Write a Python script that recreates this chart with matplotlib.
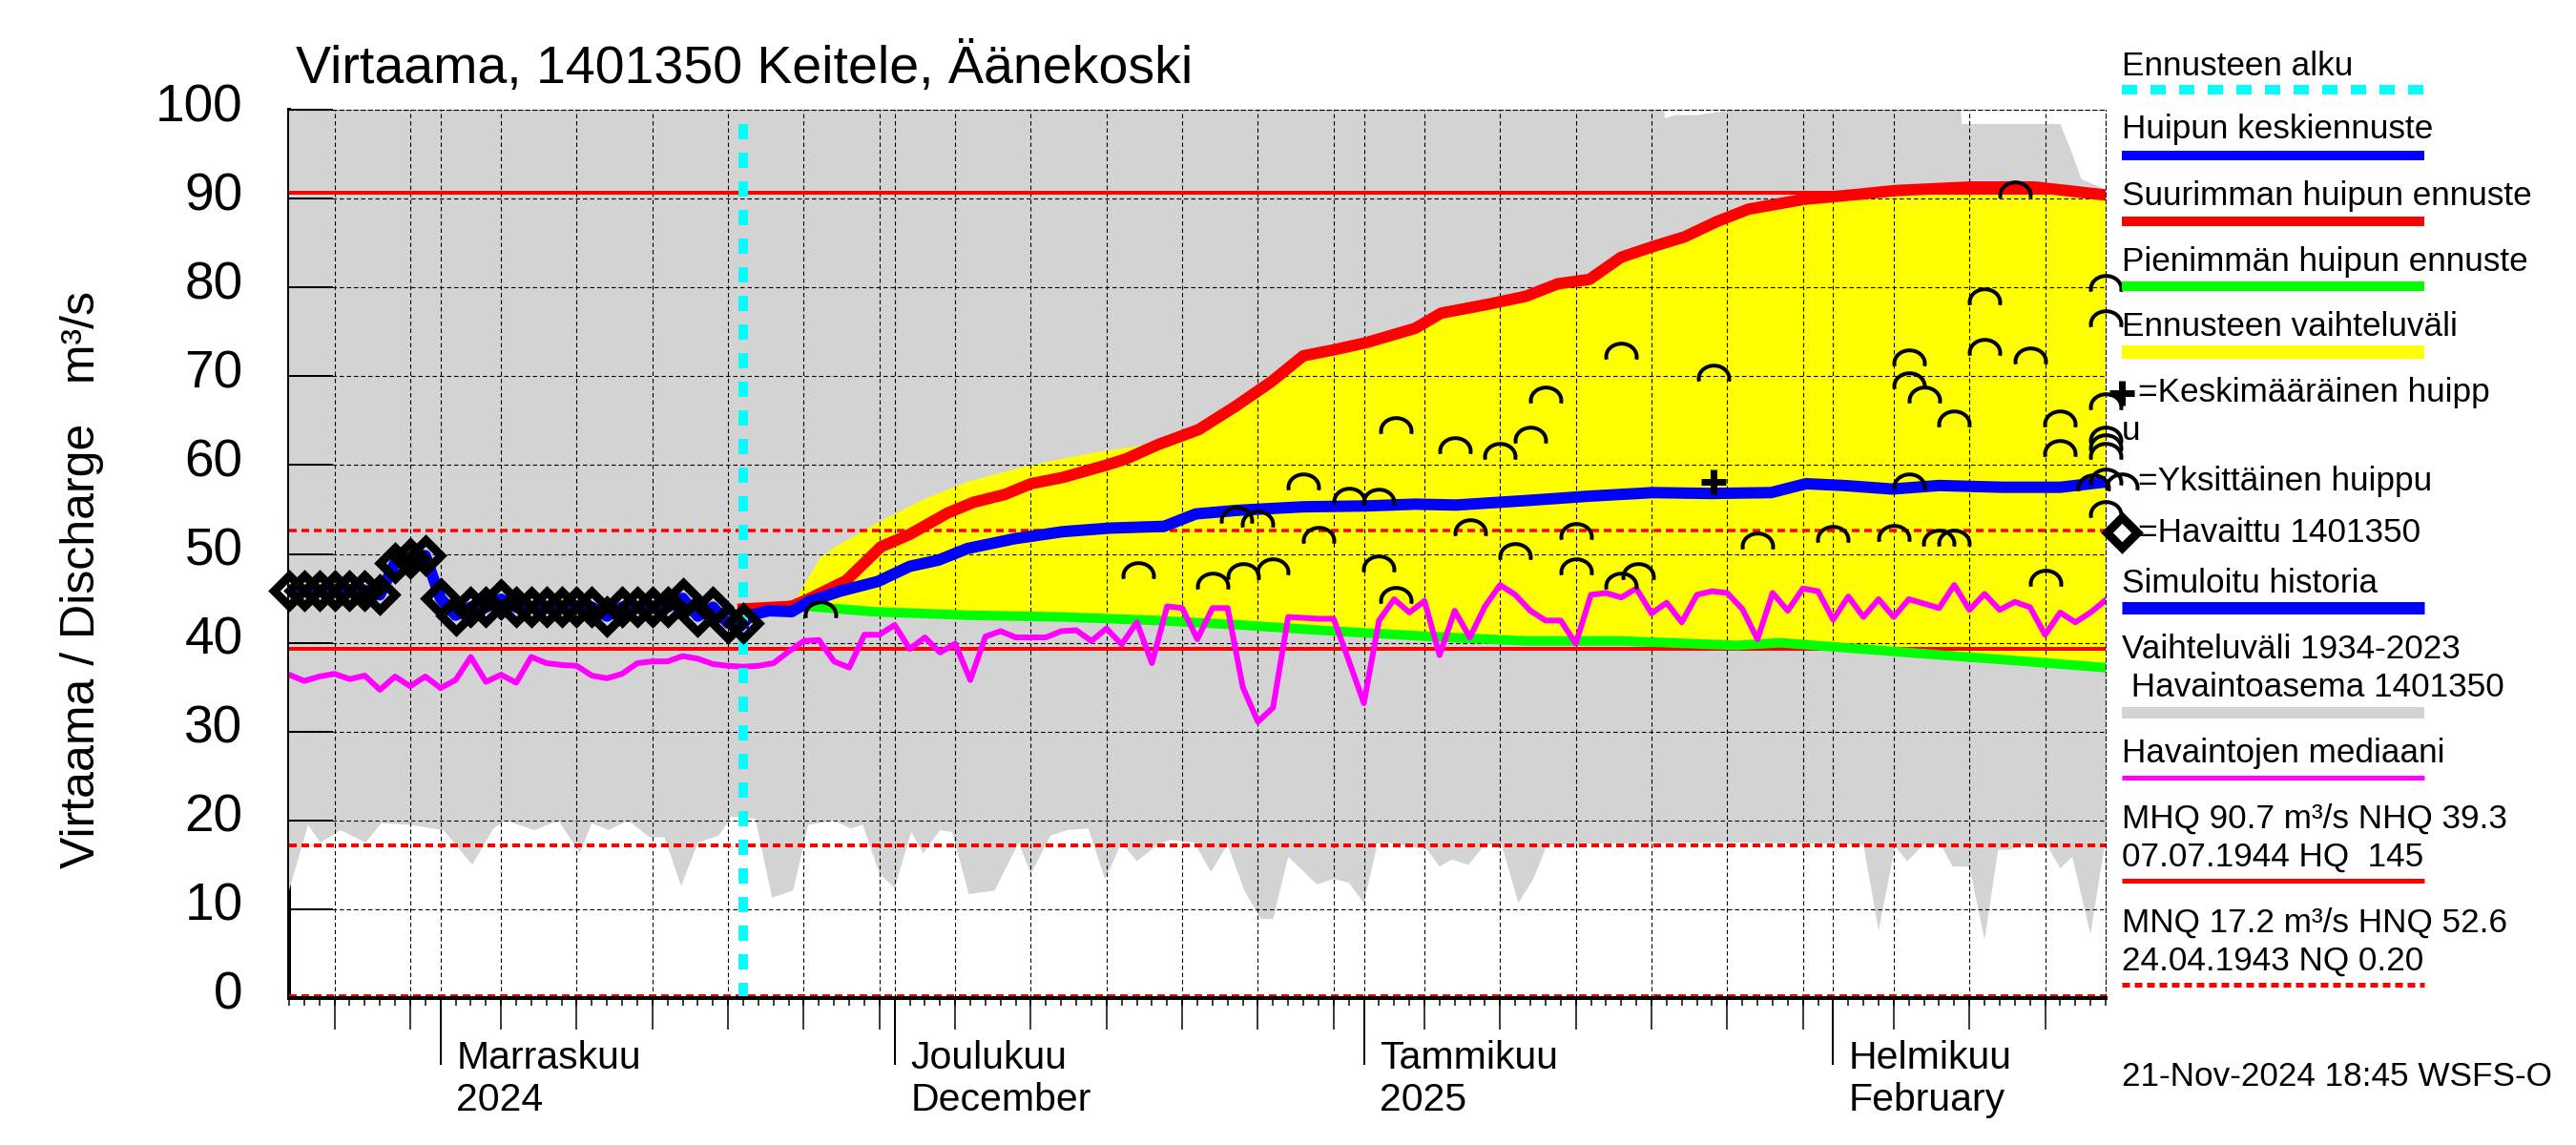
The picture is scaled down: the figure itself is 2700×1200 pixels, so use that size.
import datetime as dt
import numpy as np
import matplotlib
matplotlib.use("Agg")
import matplotlib.pyplot as plt
import matplotlib.dates as mdates
from matplotlib.path import Path
from matplotlib.lines import Line2D
from matplotlib.patches import Rectangle
from matplotlib.transforms import ScaledTranslation

plt.rcParams['font.family'] = ['Liberation Sans', 'DejaVu Sans']
plt.rcParams['lines.scale_dashes'] = False

W, H = 2700, 1200
PT = 72 / 100  # points per pixel (dpi 100)

# x values are days counted from 22.10.2024
START = dt.datetime(2024, 10, 22)
NDAYS = 120
FORECAST_DAY = 30

# havaittu (observed)
obs_day = list(range(31))
obs_val = [45.9, 45.9, 45.9, 45.9, 45.9, 45.9, 45.4, 49.0, 49.5, 49.8,
           45.0, 43.1, 44.0, 44.0, 44.9, 44.0, 44.0, 44.0, 44.0, 44.0,
           44.0, 43.0, 44.0, 44.0, 44.0, 44.0, 45.0, 43.0, 44.0, 42.2, 42.2]

# huipun keskiennuste (mean forecast)
mean_day = [30, 30.5, 31.7, 33.2, 34.3, 36.4, 38.9, 41, 42.9, 44.8, 47.9, 51.1,
            54.2, 57.8, 59.9, 62.6, 67, 71.2, 74.4, 77.1, 81.7, 85.9, 90.1,
            93.9, 97.9, 100.2, 102.7, 105.9, 109, 113.2, 117, 120]
mean_val = [42.2, 43.1, 43.6, 43.5, 44.6, 45.8, 46.9, 48.6, 49.3, 50.6, 51.7, 52.5,
            52.9, 53.1, 54.5, 54.9, 55.3, 55.4, 55.6, 55.5, 56.0, 56.5, 56.9,
            56.8, 56.9, 57.9, 57.7, 57.3, 57.7, 57.5, 57.5, 58.1]

# suurimman huipun ennuste (max forecast)
max_day = [30, 33.2, 34.3, 36.8, 39.1, 41, 43.5, 45.2, 47.3, 49, 51.1, 54, 55.3,
           57.4, 60.1, 62.6, 64.9, 67, 69.1, 71.2, 74.4, 76.1, 79.2, 81.7, 83.8,
           85.9, 88, 90.1, 92.2, 94.3, 96.4, 100, 103.8, 106.1, 111.1, 115.3,
           117.4, 120]
max_val = [43.8, 44.1, 44.9, 47.0, 50.8, 52.2, 54.6, 55.8, 56.7, 57.9, 58.6, 60.0,
           60.7, 62.3, 64.0, 66.7, 69.4, 72.3, 73.0, 73.8, 75.4, 77.1, 78.1, 79.0,
           80.4, 80.9, 83.4, 84.6, 85.7, 87.4, 88.8, 89.9, 90.5, 90.9, 91.3, 91.3,
           90.9, 90.4]

# pienimmän huipun ennuste (min forecast)
min_day = [33.3, 34.3, 38.5, 44.8, 51.1, 57.4, 62.8, 69.1, 75.4, 81.7, 88, 95.6,
           98.5, 106.9, 113.2, 120]
min_val = [44.2, 44.1, 43.5, 43.1, 42.9, 42.5, 42.0, 41.3, 40.7, 40.2, 40.2, 39.7,
           40.0, 38.9, 38.1, 37.2]

# ennusteen vaihteluväli, upper edge before it meets the max forecast
band_top_day = [33.2, 35.1, 36.1, 39.1, 42, 44.8, 49, 53.2, 56.3]
band_top_val = [44.1, 49.6, 50.8, 53.7, 56.2, 58.1, 60.0, 61.4, 62.2]

# havaintojen mediaani, daily
median_val = [36.4, 35.7, 36.2, 36.5, 35.9, 36.3, 34.7, 36.2, 35.1, 36.2,
              34.9, 35.8, 38.4, 35.6, 36.4, 35.5, 38.4, 37.7, 37.5, 37.4,
              36.3, 36.0, 36.5, 37.7, 37.9, 37.9, 38.5, 38.2, 37.6, 37.4,
              37.3, 37.4, 37.7, 39.0, 40.2, 40.3, 37.9, 37.2, 40.9, 40.9,
              42.0, 39.3, 40.6, 38.9, 39.9, 35.8, 40.7, 41.3, 40.6, 40.6,
              40.6, 41.3, 41.4, 40.2, 41.6, 39.8, 42.3, 37.7, 44.1, 43.9,
              40.4, 43.9, 43.9, 35.0, 31.1, 32.7, 42.9, 42.8, 42.7, 42.7,
              38.0, 33.2, 42.5, 44.9, 43.4, 44.7, 38.6, 43.6, 40.6, 44.1,
              46.5, 45.4, 43.6, 42.5, 42.5, 39.9, 45.4, 45.6, 45.1, 46.1,
              43.3, 44.5, 42.3, 45.4, 45.8, 45.6, 43.8, 40.4, 45.6, 43.6,
              46.1, 45.8, 42.6, 45.2, 42.9, 44.9, 42.9, 44.9, 44.4, 43.9,
              46.5, 43.7, 45.5, 43.7, 44.6, 44.0, 40.9, 43.4, 42.3, 43.4, 44.8]
median_day = list(range(len(median_val)))

# vaihteluväli 1934-2023 (historical range)
hist_low_day = [0, 1.25, 2.07, 3.4, 5.05, 6.1, 8, 10.2, 12.1, 13.5, 14.3, 16.2, 17.8,
                19.2, 20, 21.1, 22.4, 23.8, 24.8, 25.9, 27, 28.4, 29.2, 30.8, 31.9,
                33.3, 34.3, 36, 37.1, 37.9, 39, 40, 41.1, 41.9, 43, 43.8, 44.9, 46.6,
                48.2, 49, 50.3, 51.4, 52.8, 53.9, 55, 56, 57.4, 58.2, 59.8, 60.9, 62,
                63.1, 64.2, 65, 66, 67.9, 69, 70, 71, 71.9, 72.5, 75.2, 76, 76.8,
                77.9, 79, 80.1, 81.2, 82.2, 83.1, 88, 95, 104, 105, 106.1, 106.9,
                108, 109.1, 109.9, 111, 112, 112.9, 113.7, 115.1, 116.2, 117, 117.8,
                119, 120]
hist_low_val = [12.1, 19.5, 17.5, 18.9, 17.5, 19.7, 19.5, 18.9, 15.0, 19.1, 20.0, 18.9,
                20.0, 16.3, 19.7, 18.9, 20.0, 18.1, 18.1, 12.6, 17.5, 18.3, 20.4, 20.2,
                11.3, 12.1, 19.5, 20.0, 19.1, 19.5, 14.0, 12.4, 18.7, 16.3, 18.9, 18.7,
                11.7, 12.1, 17.5, 14.0, 18.3, 18.9, 19.1, 13.4, 17.5, 15.4, 17.3, 17.8,
                17.5, 14.2, 17.3, 12.1, 8.9, 8.9, 15.9, 12.8, 13.4, 13.0, 10.7, 17.4,
                17.5, 16.7, 14.8, 15.6, 15.0, 17.3, 17.3, 10.7, 13.4, 17.3, 17.4, 17.5,
                17.3, 7.6, 17.1, 15.4, 17.3, 17.3, 14.8, 14.8, 6.6, 16.7, 16.7, 17.5,
                17.0, 14.6, 15.9, 7.2, 17.9]
hist_high_day = [0, 90.6, 90.9, 91.5, 93.1, 94.2, 96.1, 96.3, 110.3, 110.5, 117,
                 117.6, 118.4, 119.2, 120]
hist_high_val = [103, 103, 99.0, 99.4, 99.4, 99.7, 100.1, 103, 103, 98.4, 98.4,
                 95.9, 92.2, 91.6, 91.0]

# yksittäiset huiput (single peaks)
peak_day = [35.1, 56.1, 61.0, 62.6, 63.0, 64.0, 65.0, 67.0, 68.0, 70.0, 72.0, 72.0,
            73.1, 73.1, 77.0, 78.0, 80.0, 81.0, 82.0, 83.0, 85.0, 85.0, 88.0, 88.0,
            89.1, 94.1, 97.0, 102.0, 106.0, 107.0, 107.0, 107.0, 108.0, 109.0,
            110.0, 110.0, 112.0, 112.0, 114.0, 115.0, 116.0, 117.0, 117.0, 119.2,
            120.0, 120.0, 120.0, 120.0, 120.0, 120.0, 120.0, 120.0]
peak_val = [43.7, 48.1, 46.9, 54.4, 48.0, 53.9, 48.6, 58.1, 52.1, 56.5, 56.4, 48.9,
            64.4, 45.3, 62.2, 53.0, 61.5, 50.3, 63.4, 67.9, 52.5, 48.5, 72.8, 46.9,
            48.0, 70.4, 51.4, 52.2, 52.3, 72.1, 69.5, 58.1, 67.9, 51.8, 65.2, 51.8,
            79.0, 73.3, 91.0, 72.3, 47.3, 65.2, 61.9, 58.0, 80.4, 76.5, 67.1, 63.4,
            62.5, 61.5, 58.7, 55.0]

# keskimääräinen huippu (mean peak)
mean_peak_day = [94.1]
mean_peak_val = [58.1]

MHQ, NHQ, HNQ, MNQ, NQ = 90.7, 39.3, 52.6, 17.2, 0.20

month_labels = [(dt.datetime(2024, 11, 1), 'Marraskuu', '2024'),
                (dt.datetime(2024, 12, 1), 'Joulukuu', 'December'),
                (dt.datetime(2025, 1, 1), 'Tammikuu', '2025'),
                (dt.datetime(2025, 2, 1), 'Helmikuu', 'February')]

base = mdates.date2num(START)


def X(days):
    return base + np.asarray(days, dtype=float)


GREY = '#d3d3d3'

fig = plt.figure(figsize=(W / 100, H / 100), dpi=100)
ax = fig.add_axes([303 / W, 1 - 1046 / H, (2207 - 303) / W, (1046 - 115) / H])
ax.set_xlim(X(0), X(NDAYS))
ax.set_ylim(0, 100)

# historical range
ax.fill(np.concatenate([X(hist_low_day), X(hist_high_day)[::-1]]),
        np.concatenate([hist_low_val, hist_high_val[::-1]]),
        color=GREY, lw=0, zorder=1)

# forecast range: early envelope, then the max forecast, back along min forecast
top_x = list(band_top_day) + [d for d in max_day if d > band_top_day[-1]]
top_y = list(band_top_val) + [v for d, v in zip(max_day, max_val) if d > band_top_day[-1]]
ax.fill(np.concatenate([X(top_x), X(min_day)[::-1]]),
        np.concatenate([top_y, min_val[::-1]]),
        color='#ffff00', lw=0, zorder=1.2)

# grid
grid_ls = (0, (4.5 * PT, 3 * PT))
for v in range(10, 101, 10):
    ax.axhline(v, color='black', lw=1.1 * PT, ls=grid_ls, zorder=2)
grid_days = []
for d in range(NDAYS + 1):
    day = (START + dt.timedelta(days=d)).day
    if day in (1, 5, 10, 15, 20, 25, 30):
        grid_days.append(d)
for d in grid_days:
    ax.axvline(X(d), color='black', lw=1.1 * PT, ls=grid_ls, zorder=2)

# reference lines
dash_red = (0, (8 * PT, 5 * PT))
ax.axhline(MHQ, color='red', lw=4 * PT, zorder=2.2)
ax.axhline(NHQ, color='red', lw=4 * PT, zorder=2.2)
ax.axhline(HNQ, color='red', lw=3.5 * PT, ls=dash_red, zorder=2.2)
ax.axhline(MNQ, color='red', lw=4 * PT, ls=dash_red, zorder=2.2)
ax.axhline(NQ, color='red', lw=4 * PT, ls=dash_red, zorder=2.2)

# forecasts
ax.plot(X(min_day), min_val, color='#00ff00', lw=10 * PT, zorder=3)
ax.plot(X(median_day), median_val, color='#ff00ff', lw=6 * PT, zorder=3.2)
ax.plot(X(max_day), max_val, color='red', lw=12 * PT, zorder=3.4)
ax.plot(X(obs_day), obs_val, color='blue', lw=12 * PT, zorder=3.5)
ax.plot(X(mean_day), mean_val, color='blue', lw=12 * PT, zorder=3.5)

# peak markers
t = np.linspace(np.pi + 0.22, -0.22, 40)
ARC = Path(np.column_stack([np.cos(t), 0.85 * np.sin(t) - 0.33]))
ARC_STYLE = dict(marker=ARC, ms=23, mfc='none', mec='black', mew=4 * PT)
ax.plot(X(peak_day), peak_val, ls='none', zorder=4, clip_on=False, **ARC_STYLE)
PLUS_STYLE = dict(marker='+', ms=27 * PT, mec='black', mew=7 * PT)
ax.plot(X(mean_peak_day), mean_peak_val, ls='none', zorder=4.2, **PLUS_STYLE)

cyan_ls = (0, (16 * PT, 14 * PT))
ax.axvline(X(FORECAST_DAY), ymax=0.99, color='#00ffff', lw=10 * PT, ls=cyan_ls, zorder=4.5)

DIAMOND_STYLE = dict(marker='D', ms=16.5, mfc='none', mec='black', mew=9 * PT)
ax.plot(X(obs_day), obs_val, ls='none', zorder=5, clip_on=False, **DIAMOND_STYLE)

# spines
for side in ('top', 'right'):
    ax.spines[side].set_linestyle(grid_ls)
    ax.spines[side].set_linewidth(1.1 * PT)
ax.spines['left'].set_linewidth(4 * PT)
ax.spines['left'].set_zorder(0.5)
ax.spines['bottom'].set_linewidth(4 * PT)
ax.spines['bottom'].set_zorder(10)

# y axis
ax.set_yticks(range(0, 101, 10))
ax.tick_params(axis='y', direction='in', length=46 * PT, width=2 * PT,
               pad=35, labelsize=39.6)
for lab in ax.get_yticklabels():
    lab.set_transform(lab.get_transform() + ScaledTranslation(0, 8 / 100, fig.dpi_scale_trans))

# x axis
ax.xaxis.set_major_locator(mdates.MonthLocator())
ax.xaxis.set_minor_locator(mdates.DayLocator())
ax.xaxis.set_major_formatter(matplotlib.ticker.NullFormatter())
ax.tick_params(axis='x', which='major', direction='out', length=70 * PT, width=2 * PT)
ax.tick_params(axis='x', which='minor', direction='out', length=8 * PT, width=1.5 * PT)
ax.vlines(X(grid_days), 0, -33 / 931, transform=ax.get_xaxis_transform(),
          color='black', lw=1.5 * PT, clip_on=False)
for when, l1, l2 in month_labels:
    xd = mdates.date2num(when)
    ax.annotate(l1, xy=(xd, 0), xycoords=('data', 'axes fraction'),
                xytext=(12, -74.5 * PT), textcoords='offset points',
                fontsize=29.5, ha='left', va='baseline')
    ax.annotate(l2, xy=(xd, 0), xycoords=('data', 'axes fraction'),
                xytext=(12, -118.5 * PT), textcoords='offset points',
                fontsize=29.5, ha='left', va='baseline')

# titles
fig.text(310 / W, 1 - 87 / H, 'Virtaama, 1401350 Keitele, Äänekoski',
         fontsize=40, va='baseline', ha='left')
fig.text(86 / W, 1 - 607 / H, 'Virtaama / Discharge   m³/s', rotation=90,
         fontsize=36, ha='center', va='center')


# legend
def fx(x):
    return x / W


def fy(y):
    return 1 - y / H


LX0, LX1 = 2224, 2541
LFS = 25.3


def leg_text(y, s, x=LX0):
    fig.text(fx(x), fy(y), s, fontsize=LFS, ha='left', va='baseline')


def leg_line(y, color, lw, ls='-'):
    fig.add_artist(Line2D([fx(LX0), fx(LX1)], [fy(y), fy(y)], transform=fig.transFigure,
                          color=color, lw=lw * PT, ls=ls, solid_capstyle='butt',
                          dash_capstyle='butt'))


def leg_band(y0, y1, color):
    fig.add_artist(Rectangle((fx(LX0), fy(y1)), fx(LX1) - fx(LX0), fy(y0) - fy(y1),
                             transform=fig.transFigure, color=color, lw=0))


def leg_marker(y, style):
    fig.add_artist(Line2D([fx(2224)], [fy(y)], transform=fig.transFigure, ls='none', **style))


leg_text(79, 'Ennusteen alku')
leg_line(94, '#00ffff', 10, cyan_ls)
leg_text(145, 'Huipun keskiennuste')
leg_line(163, 'blue', 10)
leg_text(215, 'Suurimman huipun ennuste')
leg_line(232, 'red', 10)
leg_text(284, 'Pienimmän huipun ennuste')
leg_line(300, '#00ff00', 10)
leg_text(352, 'Ennusteen vaihteluväli')
leg_band(362, 376, '#ffff00')
leg_marker(412, PLUS_STYLE)
leg_text(421, '=Keskimääräinen huipp', x=2241)
leg_text(461, 'u')
leg_marker(505, ARC_STYLE)
leg_text(514, '=Yksittäinen huippu', x=2241)
leg_marker(558, DIAMOND_STYLE)
leg_text(568, '=Havaittu 1401350', x=2241)
leg_text(621, 'Simuloitu historia')
leg_line(637, 'blue', 13)
leg_text(690, 'Vaihteluväli 1934-2023')
leg_text(730, ' Havaintoasema 1401350')
leg_band(741, 753, GREY)
leg_text(799, 'Havaintojen mediaani')
leg_line(815, '#ff00ff', 5)
leg_text(868, 'MHQ 90.7 m³/s NHQ 39.3')
leg_text(908, '07.07.1944 HQ  145')
leg_line(923, 'red', 5)
leg_text(977, 'MNQ 17.2 m³/s HNQ 52.6')
leg_text(1017, '24.04.1943 NQ 0.20')
leg_line(1032, 'red', 5, dash_red)
leg_text(1138, '21-Nov-2024 18:45 WSFS-O')

fig.savefig('out.png', dpi=100)
